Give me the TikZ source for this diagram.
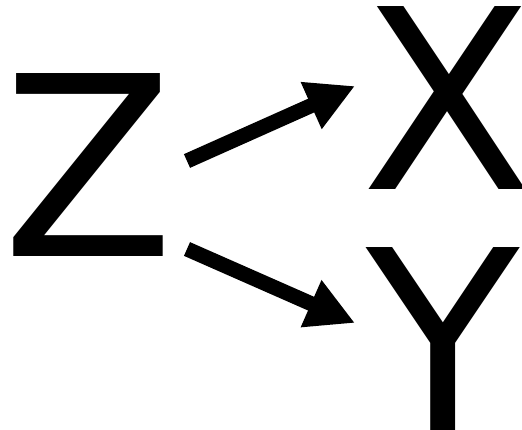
\documentclass[tikz,border=0pt]{standalone}
\usepackage{fontspec}
\setmainfont{DejaVu Sans}
\usetikzlibrary{arrows.meta}
\begin{document}
\begin{tikzpicture}[x=1pt,y=-1pt,
  letter/.style={inner sep=0pt, font=\fontsize{251}{251}\selectfont, anchor=base},
  arr/.style={line width=15pt, -{Triangle[length=48pt,width=48pt]}}]
\useasboundingbox (0,0) rectangle (522,430);
\node[letter] (z) at (88,257) {Z};
\node[letter] (x) at (447,190) {X};
\node[letter] (y) at (443,430) {Y};
\coordinate (zt) at (187,161);
\coordinate (zb) at (187,249);
\coordinate (xt) at (355,86);
\coordinate (yt) at (355,323);
\draw[arr] (zt) -- (xt);
\draw[arr] (zb) -- (yt);
\end{tikzpicture}
\end{document}
